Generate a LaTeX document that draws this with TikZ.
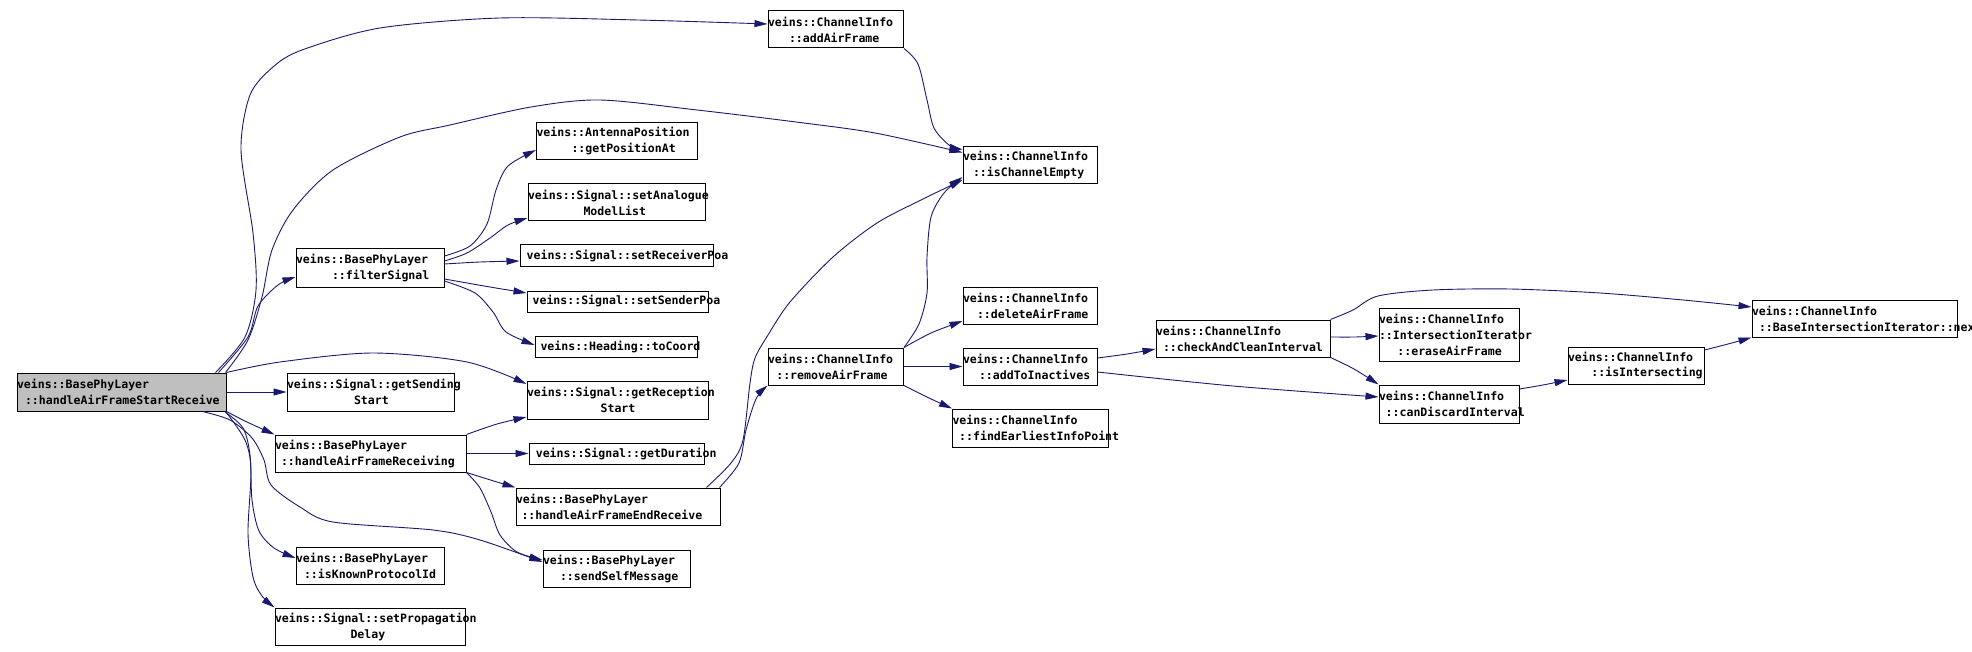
\documentclass[tikz,border=0pt]{standalone}
\usepackage{fontspec}
\newfontfamily\dvsm{DejaVu Sans Mono}
\usetikzlibrary{arrows.meta}
\hyphenpenalty=10000
\exhyphenpenalty=10000
\definecolor{edgeblue}{HTML}{191970}
\definecolor{mainfill}{HTML}{BFBFBF}
\tikzset{
  box/.style={draw=black, line width=1pt, fill=white, inner sep=0pt, align=left,
    font=\dvsm\bfseries\fontsize{11.55}{16}\selectfont},
  sz/.style 2 args={minimum width=#1, text width=#1, minimum height=#2},
  edge/.style={draw=edgeblue, line width=0.9pt, -{Triangle[length=13pt,width=7pt]}},
}
\begin{document}
\begin{tikzpicture}[x=1pt,y=-1pt]
\useasboundingbox[fill=white] (0,0) rectangle (1972,652);
% nodes
\node[box,sz={209pt}{38pt},fill=mainfill] (H) at (121.5,392) {veins::BasePhyLayer\\\hspace*{8pt}::handleAirFrameStartReceive};
\node[box,sz={167pt}{38pt}] (gSS) at (370.5,392) {veins::Signal::getSending\\\hspace*{67pt}Start};
\node[box,sz={191pt}{37pt}] (HR) at (370.5,453.5) {veins::BasePhyLayer\\\hspace*{6pt}::handleAirFrameReceiving};
\node[box,sz={148pt}{37pt}] (iKP) at (370,565.5) {veins::BasePhyLayer\\\hspace*{8pt}::isKnownProtocolId};
\node[box,sz={190pt}{37pt}] (sPD) at (370,626.5) {veins::Signal::setPropagation\\\hspace*{75.5pt}Delay};
\node[box,sz={148pt}{38pt}] (F) at (370,268) {veins::BasePhyLayer\\\hspace*{36pt}::filterSignal};
\node[box,sz={135.5pt}{37pt}] (A) at (835.75,29.5) {veins::ChannelInfo\\\hspace*{21pt}::addAirFrame};
\node[box,sz={134pt}{37pt}] (ICE) at (1030,165.5) {veins::ChannelInfo\\\hspace*{10pt}::isChannelEmpty};
\node[box,sz={160.5pt}{37pt}] (gPA) at (616.75,141.5) {veins::AntennaPosition\\\hspace*{35pt}::getPositionAt};
\node[box,sz={177pt}{37pt}] (sAML) at (616.5,202.5) {veins::Signal::setAnalogue\\\hspace*{55.5pt}ModelList};
\node[box,sz={193pt}{22pt}] (sRP) at (616.5,256) {\hspace*{6.7pt}veins::Signal::setReceiverPoa};
\node[box,sz={181pt}{21pt}] (sSP) at (617.5,301.5) {\hspace*{5.6pt}veins::Signal::setSenderPoa};
\node[box,sz={134pt}{37pt}] (DAF) at (1030,305.5) {veins::ChannelInfo\\\hspace*{14pt}::deleteAirFrame};
\node[box,sz={162.5pt}{21pt}] (tC) at (616.25,346.5) {\hspace*{5.5pt}veins::Heading::toCoord};
\node[box,sz={181pt}{38pt}] (gRS) at (617.5,400) {veins::Signal::getReception\\\hspace*{73.6pt}Start};
\node[box,sz={175pt}{21pt}] (gD) at (616.5,453.5) {\hspace*{6.8pt}veins::Signal::getDuration};
\node[box,sz={204pt}{37pt}] (HE) at (618,506.5) {veins::BasePhyLayer\\\hspace*{5.5pt}::handleAirFrameEndReceive};
\node[box,sz={147pt}{37pt}] (SSM) at (616.5,568.5) {veins::BasePhyLayer\\\hspace*{17pt}::sendSelfMessage};
\node[box,sz={135.5pt}{37pt}] (R) at (835.75,366.5) {veins::ChannelInfo\\\hspace*{8.3pt}::removeAirFrame};
\node[box,sz={134pt}{37pt}] (AI) at (1030,366.5) {veins::ChannelInfo\\\hspace*{16pt}::addToInactives};
\node[box,sz={155.5pt}{38pt}] (FE) at (1030.25,428) {veins::ChannelInfo\\\hspace*{6.7pt}::findEarliestInfoPoint};
\node[box,sz={174pt}{37pt}] (C) at (1243,338.5) {veins::ChannelInfo\\\hspace*{7pt}::checkAndCleanInterval};
\node[box,sz={140pt}{53pt}] (EAF) at (1449,334.5) {veins::ChannelInfo\\::IntersectionIterator\\\hspace*{18.4pt}::eraseAirFrame};
\node[box,sz={140pt}{38pt}] (CD) at (1449,404) {veins::ChannelInfo\\\hspace*{6.7pt}::canDiscardInterval};
\node[box,sz={136pt}{37pt}] (II) at (1636,365.5) {veins::ChannelInfo\\\hspace*{23.4pt}::isIntersecting};
\node[box,sz={205pt}{37pt}] (N) at (1854.5,318.5) {veins::ChannelInfo\\\hspace*{7pt}::BaseIntersectionIterator::next};
% edges from handleAirFrameStartReceive
\draw[edge] plot[smooth] coordinates {([xshift=-11pt]H.north east) (245,337) (256,290) (253,233) (241,150) (250,95) (273,67) (302,50) (380,28) (500,18) (638,20) ([yshift=5.5pt]A.west)};
\draw[edge] plot[smooth] coordinates {([xshift=-1pt]H.north east) (248,340) (262,297) (272,250) (293,210) (333,170) (400,137) (450,125) (531,107) (600,100) (697,110) (796,122) (875,133) ([yshift=13pt]ICE.west)};
\draw[edge] plot[smooth] coordinates {([xshift=-8pt]H.north east) (248,337) (258,306) (278,285) ([yshift=-9pt]F.west)};
\draw[edge] (H.east) -- (gSS.west);
\draw[edge] plot[smooth] coordinates {(H.north east) (280,362) (373,353) (467,362) ([yshift=16pt]gRS.west)};
\draw[edge] plot[smooth] coordinates {(H.south east) (247,422) (HR.north west)};
\draw[edge] plot[smooth] coordinates {([xshift=-24pt]H.south east) (230,420) (252,438) (264,460) (271,485) (300,507) (333,522) (433,530) (480,540) ([yshift=6.5pt]SSM.west)};
\draw[edge] plot[smooth] coordinates {([xshift=-2pt]H.south east) (243,428) (250,455) (252,500) (259,531) (274,548) ([yshift=7.5pt]iKP.west)};
\draw[edge] plot[smooth] coordinates {([xshift=-1pt]H.south east) (245,440) (251,470) (248,533) (253,577) (262,596) (sPD.north west)};
% edges from filterSignal
\draw[edge] plot[smooth] coordinates {([yshift=12pt]F.east) (470,246) (487,224) (496,190) (508,166) ([yshift=-8.5pt]gPA.west)};
\draw[edge] plot[smooth] coordinates {([yshift=7pt]F.east) (467,253) (490,238) (508,225) ([yshift=-15.5pt]sAML.west)};
\draw[edge] plot[smooth] coordinates {([yshift=4pt]F.east) (480,262) ([yshift=-5pt]sRP.west)};
\draw[edge] plot[smooth] coordinates {([yshift=-11pt]F.east) (490,287) ([yshift=8.5pt]sSP.west)};
\draw[edge] plot[smooth] coordinates {([yshift=-13pt]F.east) (475,293) (493,312) (506,332) ([yshift=1.5pt]tC.west)};
% edges from handleAirFrameReceiving
\draw[edge] plot[smooth] coordinates {(HR.north east) (497,424) ([yshift=-17pt]gRS.west)};
\draw[edge] (HR.east) -- (gD.west);
\draw[edge] plot[smooth] coordinates {(HR.south east) (497,482) (HE.north west)};
\draw[edge] plot[smooth] coordinates {(HR.south east) (480,488) (491,512) (500,535) (517,552) ([yshift=8.5pt]SSM.west)};
% edges from handleAirFrameEndReceive
\draw[edge] plot[smooth] coordinates {([xshift=-1pt]HE.north east) (739,463) (746,430) (756,399) (R.south west)};
\draw[edge] plot[smooth] coordinates {([xshift=-14pt]HE.north east) (731,463) (743,440) (750,383) (755,358) (768,335) (790,302) (833,257) (877,223) (923,199) ([yshift=-14.5pt]ICE.west)};
% edges from removeAirFrame
\draw[edge] plot[smooth] coordinates {(R.north east) (919,324) (927,293) (927,257) (931,217) (944,193) ([yshift=-11.5pt]ICE.west)};
\draw[edge] plot[smooth] coordinates {(R.north east) (931,333) ([yshift=-15.5pt]DAF.west)};
\draw[edge] (R.east) -- (AI.west);
\draw[edge] plot[smooth] coordinates {(R.south east) (929,398) (FE.north west)};
% addAirFrame
\draw[edge] plot[smooth] coordinates {(A.south east) (918,64) (927,100) (934,128) (949,145) ([yshift=16pt]ICE.west)};
% addToInactives
\draw[edge] plot[smooth] coordinates {([yshift=8.5pt]AI.east) (1127,354) ([yshift=-10.5pt]C.west)};
\draw[edge] plot[smooth] coordinates {([yshift=-5.5pt]AI.east) (1233,386) ([yshift=7pt]CD.west)};
% checkAndCleanInterval
\draw[edge] plot[smooth] coordinates {([yshift=1.5pt]C.east) (1355,337) ([yshift=-1.5pt]EAF.west)};
\draw[edge] plot[smooth] coordinates {(C.south east) (1354,369) (CD.north west)};
\draw[edge] plot[smooth] coordinates {(C.north east) (1353,310) (1378,296) (1433,290) (1510,289) (1600,293) (1683,300) ([yshift=11.5pt]N.west)};
% canDiscardInterval, isIntersecting
\draw[edge] plot[smooth] coordinates {([yshift=15pt]CD.east) (1543,385) ([yshift=-14.5pt]II.west)};
\draw[edge] plot[smooth] coordinates {([yshift=15.5pt]II.east) (1728,344) (N.south west)};
\end{tikzpicture}
\end{document}
